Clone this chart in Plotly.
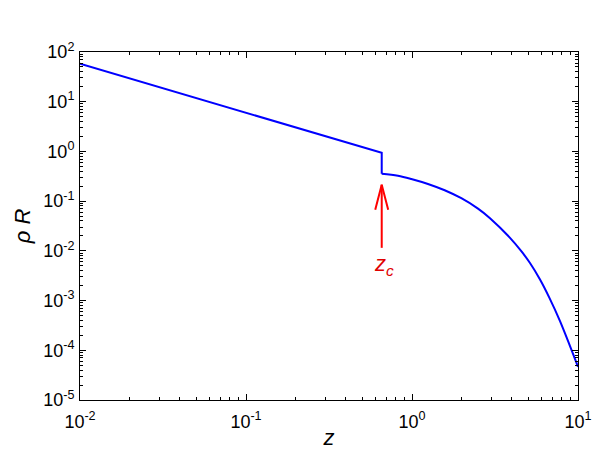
import numpy as np
import plotly.graph_objects as go

# --- data ---
# power-law part (straight on log-log) down to the jump at z_c
z_left = [0.01, 0.657, 0.657]
rhoR_left = [58.0, 0.94, 0.356]
# curved part after the jump
z_right = [0.657, 0.823, 0.990, 1.248, 1.574, 1.982, 2.498, 2.951, 3.895, 4.567,
           5.137, 5.904, 6.716, 7.792, 8.951, 10.0]
rhoR_right = [0.356, 0.3245, 0.2797, 0.2219, 0.1657, 0.1144, 0.0707, 0.0453, 0.01826, 0.00973,
              0.00571, 0.002658, 0.001149, 3.869e-4, 1.215e-4, 4.656e-5]

# marker arrow for z_c
z_c = 0.657
arrow_tip = 0.214
arrow_tail = 0.0115
arrow_head_y = 0.0671
arrow_head_dx = 0.039  # in decades

x_major = [-2, -1, 0, 1]
x_ticktext = ["10<sup>-2</sup>", "10<sup>-1</sup>", "10<sup>0</sup>", "10<sup>1</sup>"]
y_major = [-5, -4, -3, -2, -1, 0, 1, 2]
y_ticktext = ["10<sup>%d</sup>" % e for e in y_major]

FONT = "Liberation Sans, Arial, sans-serif"

fig = go.Figure()
fig.add_trace(go.Scatter(x=z_left, y=rhoR_left, mode="lines",
                         line=dict(color="#0000FF", width=2), showlegend=False))
fig.add_trace(go.Scatter(x=z_right, y=rhoR_right, mode="lines",
                         line=dict(color="#0000FF", width=2, shape="spline", smoothing=1.0),
                         showlegend=False))

lzc = np.log10(z_c)
fig.add_trace(go.Scatter(
    x=[z_c, z_c, None, 10 ** (lzc - arrow_head_dx), z_c, 10 ** (lzc + arrow_head_dx)],
    y=[arrow_tail, arrow_tip, None, arrow_head_y, arrow_tip, arrow_head_y],
    mode="lines", line=dict(color="#FF0000", width=2), showlegend=False))

# invisible trace to hold the minor-tick overlay axes
fig.add_trace(go.Scatter(x=[0.01, 10], y=[1e-5, 100], mode="markers", xaxis="x2", yaxis="y2",
                         marker=dict(opacity=0), hoverinfo="skip", showlegend=False))

fig.add_annotation(x=lzc, y=np.log10(arrow_tail), xref="x", yref="y",
                   text="<i>z<sub>c</sub></i>", showarrow=False, yanchor="top",
                   yshift=-1, xshift=2, font=dict(family=FONT, size=22, color="#E00000"))


def minor_vals(lo, hi):
    out = []
    for e in range(lo, hi):
        for m in range(2, 10):
            out.append(m * 10 ** e)
    return out


axis_common = dict(
    type="log", showgrid=False, zeroline=False, showline=True, linecolor="black",
    linewidth=1, mirror="ticks", ticks="inside", ticklen=6, tickwidth=1,
    tickcolor="black", tickfont=dict(family=FONT, size=18, color="black"),
    tickmode="array", automargin=False,
)

fig.update_layout(
    xaxis=dict(**axis_common, range=[-2, 1],
               tickvals=[10 ** e for e in x_major], ticktext=x_ticktext,
               ticklabelstandoff=5,
               title=dict(text="<i>z</i>", font=dict(family=FONT, size=22, color="black"),
                          standoff=2)),
    yaxis=dict(**axis_common, range=[-5, 2],
               tickvals=[10 ** e for e in y_major], ticktext=y_ticktext,
               ticklabelstandoff=1,
               title=dict(text="<i>ρ R</i>", font=dict(family=FONT, size=22, color="black"),
                          standoff=6)),
    xaxis2=dict(type="log", range=[-2, 1], overlaying="x", anchor="y", side="bottom",
                showgrid=False, zeroline=False, showline=True, linecolor="black",
                mirror="ticks", ticks="inside", ticklen=3, tickwidth=1, tickcolor="black",
                tickmode="array", tickvals=minor_vals(-2, 1), showticklabels=False,
                automargin=False),
    yaxis2=dict(type="log", range=[-5, 2], overlaying="y", anchor="x", side="left",
                showgrid=False, zeroline=False, showline=True, linecolor="black",
                mirror="ticks", ticks="inside", ticklen=3, tickwidth=1, tickcolor="black",
                tickmode="array", tickvals=minor_vals(-5, 2), showticklabels=False,
                automargin=False),
    width=606, height=450, plot_bgcolor="white", paper_bgcolor="white",
    margin=dict(l=80, r=28, t=52, b=50), font=dict(family=FONT),
)

fig.write_html("out.html", config={"displayModeBar": False},
               post_script="document.body.style.margin='0px';")
